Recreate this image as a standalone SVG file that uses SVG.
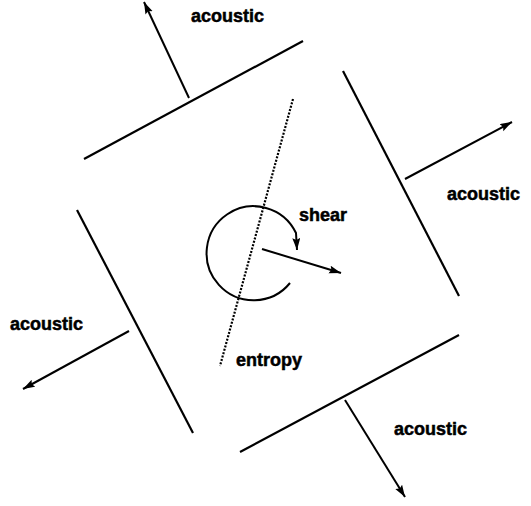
<svg xmlns="http://www.w3.org/2000/svg" width="531" height="506" viewBox="0 0 531 506">
<style>
.ln{stroke:#000;stroke-width:2.2;fill:none}
.ar{stroke:#000;stroke-width:2;fill:none;marker-end:url(#ah)}
.dot{stroke:#000;stroke-width:2.2;fill:none;stroke-dasharray:2 1.5}
.lbl{font-family:"Liberation Sans",Arial,sans-serif;font-weight:bold;font-size:18px;fill:#000;stroke:#000;stroke-width:0.5}
</style>
<defs>
<marker id="ah" markerUnits="userSpaceOnUse" markerWidth="14" markerHeight="10" refX="12" refY="4" orient="auto">
<path d="M0,0 L12,4 L0,8 L2,4 z" fill="#000"/>
</marker>
</defs>
<g id="connectors">
<line class="ar" x1="189" y1="98" x2="144" y2="2"/>
<line class="ar" x1="405" y1="179" x2="512" y2="122"/>
<line class="ar" x1="129" y1="331" x2="23" y2="389"/>
<line class="ar" x1="345" y1="400" x2="405" y2="497"/>
<line class="ar" x1="262" y1="249" x2="341" y2="273"/>
<path class="ar" d="M290,283 A47,47 0 1 1 296,233 L297,250"/>
</g>
<g id="front-top"><line class="ln" x1="84" y1="159" x2="303" y2="41"/></g>
<g id="front-right"><line class="ln" x1="343" y1="71" x2="459" y2="296"/></g>
<g id="front-left"><line class="ln" x1="77" y1="210" x2="193" y2="433"/></g>
<g id="front-bottom"><line class="ln" x1="240" y1="452" x2="459" y2="335"/></g>
<g id="entropy-line"><line class="dot" x1="293" y1="99" x2="220" y2="366"/></g>
<g id="label-top"><text class="lbl" x="191" y="22">acoustic</text></g>
<g id="label-right"><text class="lbl" x="447" y="200">acoustic</text></g>
<g id="label-left"><text class="lbl" x="10" y="330">acoustic</text></g>
<g id="label-bottom"><text class="lbl" x="394" y="435">acoustic</text></g>
<g id="label-shear"><text class="lbl" x="299" y="221">shear</text></g>
<g id="label-entropy"><text class="lbl" x="236" y="366">entropy</text></g>
</svg>
